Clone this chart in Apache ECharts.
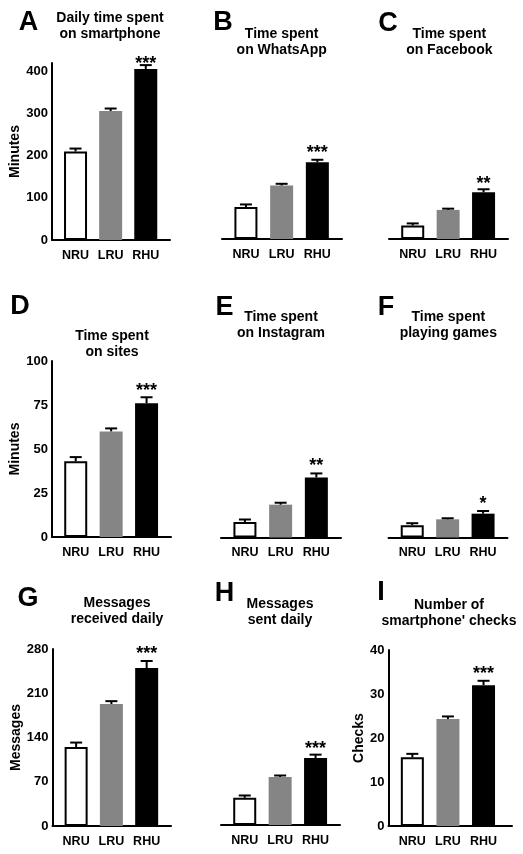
<!DOCTYPE html>
<html><head><meta charset="utf-8">
<script src="https://cdn.jsdelivr.net/npm/echarts@6/dist/echarts.min.js"></script>
<style>html,body{margin:0;padding:0;background:#fff}#c{width:523px;height:854px}</style>
</head><body><div id="c"></div>
<script>
// ---------- data ----------
const categories = ['NRU', 'LRU', 'RHU'];
const panelLetters = ['A', 'B', 'C', 'D', 'E', 'F', 'G', 'H', 'I'];
const panelTitles = [
  'Daily time spent\non smartphone',
  'Time spent\non WhatsApp',
  'Time spent\non Facebook',
  'Time spent\non sites',
  'Time spent\non Instagram',
  'Time spent\nplaying games',
  'Messages\nreceived daily',
  'Messages\nsent daily',
  "Number of\nsmartphone' checks"
];
const smartphoneMean = [210, 306, 406];
const smartphoneSem = [7, 6, 9];
const whatsappMean = [76, 127, 182];
const whatsappSem = [6, 4, 6];
const facebookMean = [32, 69, 111];
const facebookSem = [5, 3, 7];
const sitesMean = [43, 60, 76];
const sitesSem = [2.4, 1.7, 3.4];
const instagramMean = [8.8, 18.6, 34];
const instagramSem = [1.4, 1.1, 2.3];
const gamesMean = [7, 10.3, 13.5];
const gamesSem = [1.1, 0.6, 1.5];
const receivedMean = [125, 193, 250];
const receivedSem = [7, 4.5, 11];
const sentMean = [43, 76, 106];
const sentSem = [3.7, 2.3, 5.3];
const checksMean = [15.6, 24.3, 32];
const checksSem = [0.8, 0.6, 1.0];
const significance = ['***', '***', '**', '***', '**', '*', '***', '***', '***'];
const minutesTicksLong = [0, 100, 200, 300, 400];
const minutesTicksShort = [0, 25, 50, 75, 100];
const messagesTicks = [0, 70, 140, 210, 280];
const checksTicks = [0, 10, 20, 30, 40];
const yNames = ['Minutes', 'Minutes', 'Messages', 'Checks'];

// ---------- layout ----------
const FONT = '"Liberation Sans", Arial, Helvetica, sans-serif';
const barColors = ['#ffffff', '#858585', '#000000'];
const panels = [
  {mean: smartphoneMean, sem: smartphoneSem, ymax: 420, ticks: minutesTicksLong, yName: yNames[0], showY: true,
   left: 52, top: 63, width: 118, height: 177, xmax: 3.69, tx: 110, ty: 26, lx: 28.5, ly: 23, starGap: 5, nameGap: 29},
  {mean: whatsappMean, sem: whatsappSem, ymax: 420, ticks: minutesTicksLong, showY: false,
   left: 222, top: 62, width: 120, height: 177, xmax: 3.69, tx: 281.7, ty: 42.5, lx: 223, ly: 22.5, starGap: 10.5},
  {mean: facebookMean, sem: facebookSem, ymax: 420, ticks: minutesTicksLong, showY: false,
   left: 389, top: 62, width: 119, height: 177, xmax: 3.69, tx: 449.3, ty: 42.5, lx: 388, ly: 24, starGap: 9},
  {mean: sitesMean, sem: sitesSem, ymax: 100, ticks: minutesTicksShort, yName: yNames[1], showY: true,
   left: 52, top: 361, width: 119, height: 176, xmax: 3.69, tx: 112, ty: 344, lx: 20, ly: 307, starGap: 10, nameGap: 29},
  {mean: instagramMean, sem: instagramSem, ymax: 100, ticks: minutesTicksShort, showY: false,
   left: 221, top: 361, width: 120, height: 176.5, xmax: 3.69, tx: 281, ty: 325, lx: 224.5, ly: 307.5, starGap: 11},
  {mean: gamesMean, sem: gamesSem, ymax: 100, ticks: minutesTicksShort, showY: false,
   left: 388.5, top: 361, width: 119, height: 176.5, xmax: 3.69, tx: 448.3, ty: 325, lx: 386, ly: 307.5, starGap: 11},
  {mean: receivedMean, sem: receivedSem, ymax: 280, ticks: messagesTicks, yName: yNames[2], showY: true,
   left: 52.5, top: 649, width: 118.5, height: 177, xmax: 3.69, tx: 117, ty: 611.5, lx: 28, ly: 598.5, starGap: 10.7, nameGap: 29},
  {mean: sentMean, sem: sentSem, ymax: 280, ticks: messagesTicks, showY: false,
   left: 221, top: 648, width: 119, height: 177, xmax: 3.69, tx: 280, ty: 612, lx: 224.5, ly: 594, starGap: 10},
  {mean: checksMean, sem: checksSem, ymax: 40, ticks: checksTicks, yName: yNames[3], showY: true,
   left: 388.5, top: 650, width: 123.5, height: 176, xmax: 3.8, tx: 449, ty: 613, lx: 381, ly: 593, starGap: 10.7, nameGap: 20}
];

const grid = [], xAxis = [], yAxis = [], series = [], graphic = [];
panels.forEach((p, i) => {
  grid.push({left: p.left, top: p.top, width: p.width, height: p.height, containLabel: false});
  xAxis.push({
    type: 'value', gridIndex: i, min: 0.33, max: p.xmax,
    splitLine: {show: false},
    axisLine: {show: true, onZero: true, lineStyle: {color: '#000', width: 2}},
    axisTick: {show: false},
    axisLabel: {
      customValues: [1, 2, 3], margin: 9, color: '#000', fontSize: 12.5, fontWeight: 'bold', fontFamily: FONT,
      formatter: v => categories[Math.round(v) - 1] || ''
    }
  });
  yAxis.push({
    type: 'value', gridIndex: i, min: 0, max: p.ymax, show: p.showY,
    splitLine: {show: false},
    axisLine: {show: true, lineStyle: {color: '#000', width: 2}},
    axisTick: {show: false},
    axisLabel: {customValues: p.ticks, margin: 4, color: '#000', fontSize: 13, fontWeight: 'bold', fontFamily: FONT},
    name: p.yName || '', nameLocation: 'middle', nameGap: p.nameGap || 29, nameRotate: 90,
    nameTextStyle: {color: '#000', fontSize: 14, fontWeight: 'bold', fontFamily: FONT}
  });
  series.push({
    type: 'bar', xAxisIndex: i, yAxisIndex: i, barWidth: 23,
    data: p.mean.map((v, k) => ({
      value: [k + 1, v],
      itemStyle: k === 0 ? {color: '#fff', borderColor: '#000', borderWidth: 2} : {color: barColors[k]}
    })),
    silent: true, animation: false
  });
  const star = significance[i];
  const gap = p.starGap;
  series.push({
    type: 'custom', xAxisIndex: i, yAxisIndex: i, z: 5, animation: false, silent: true,
    data: p.mean.map((v, k) => [k + 1, v, v + p.sem[k]]),
    renderItem: (params, api) => {
      const x = api.value(0);
      const lo = api.coord([x, api.value(1)]);
      const hi = api.coord([x, api.value(2)]);
      const children = [
        {type: 'line', shape: {x1: lo[0], y1: lo[1], x2: hi[0], y2: hi[1]}, style: {stroke: '#000', lineWidth: 2}},
        {type: 'line', shape: {x1: hi[0] - 6, y1: hi[1], x2: hi[0] + 6, y2: hi[1]}, style: {stroke: '#000', lineWidth: 2}}
      ];
      if (params.dataIndex === 2) {
        children.push({type: 'text', style: {text: star, x: hi[0], y: hi[1] - gap + 4, textAlign: 'center',
          textVerticalAlign: 'middle', font: 'bold 18px ' + FONT, fill: '#000'}});
      }
      return {type: 'group', children};
    }
  });
  graphic.push({type: 'text', silent: true, style: {text: panelTitles[i], x: p.tx, y: p.ty, textAlign: 'center',
    textVerticalAlign: 'middle', font: 'bold 14px ' + FONT, lineHeight: 16, fill: '#000'}});
  graphic.push({type: 'text', silent: true, style: {text: panelLetters[i], x: p.lx, y: p.ly, textAlign: 'center',
    textVerticalAlign: 'middle', font: 'bold 27px ' + FONT, fill: '#000'}});
});

const chart = echarts.init(document.getElementById('c'), null, {renderer: 'canvas'});
chart.setOption({
  backgroundColor: '#fff',
  animation: false,
  textStyle: {fontFamily: FONT},
  grid, xAxis, yAxis, series, graphic
});
</script>
</body></html>
